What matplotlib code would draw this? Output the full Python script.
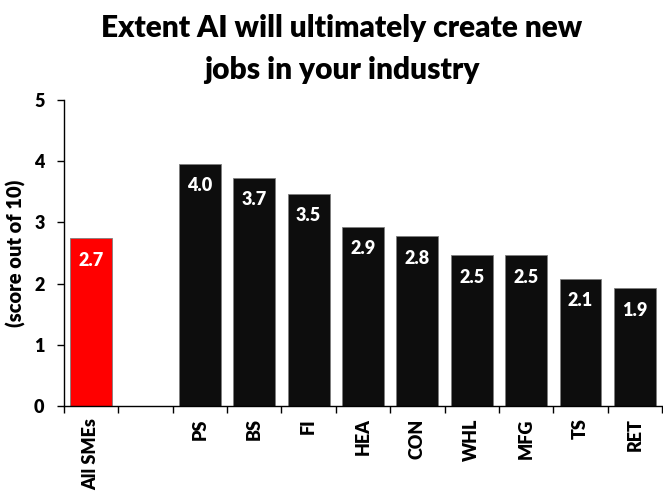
import numpy as np
import matplotlib.pyplot as plt

plt.rcParams['font.family'] = ['Lato', 'DejaVu Sans']
plt.rcParams['font.weight'] = 'heavy'

categories = ['All SMEs', '', 'PS', 'BS', 'FI', 'HEA', 'CON', 'WHL', 'MFG', 'TS', 'RET']
scores = [2.74, np.nan, 3.96, 3.73, 3.47, 2.93, 2.77, 2.47, 2.46, 2.08, 1.93]
colors = ['#ff0000', '#0d0d0d'] + ['#0d0d0d'] * 9

fig = plt.figure(figsize=(6.63, 4.93), dpi=100)
ax = fig.add_axes([64 / 663, 87 / 493, 598 / 663, 306 / 493])

x = np.arange(len(categories))
for xi, s, c in zip(x, scores, colors):
    if np.isnan(s):
        continue
    ax.bar(xi, s, width=0.77, color=c, edgecolor='#7f7f7f', linewidth=0.6)
    ax.annotate(f'{s:.1f}', (xi, s), xytext=(0, -16), textcoords='offset points',
                ha='center', va='center', color='white', fontsize=13, fontweight='heavy')

ax.set_xlim(-0.5, len(categories) - 0.5)
ax.set_ylim(0, 5)
ax.set_yticks(range(6))
ax.tick_params(axis='y', labelsize=13, length=5, width=1, pad=9)

ax.set_xticks(x)
ax.set_xticklabels(categories, rotation=90, fontsize=13, fontweight='heavy')
ax.tick_params(axis='x', which='major', length=0, pad=9)
ax.set_xticks(np.arange(-0.5, len(categories)), minor=True)
ax.tick_params(axis='x', which='minor', length=5, width=1)

for side in ['top', 'right']:
    ax.spines[side].set_visible(False)
ax.spines['left'].set_linewidth(1)
ax.spines['bottom'].set_linewidth(1)

ax.set_ylabel('(score out of 10)', fontsize=14.5, fontweight='heavy', labelpad=6)
fig.suptitle('Extent AI will ultimately create new\njobs in your industry',
             x=0.515, y=0.972, fontsize=21.5, fontweight='heavy', linespacing=1.6)

fig.savefig('out.png', dpi=100)
